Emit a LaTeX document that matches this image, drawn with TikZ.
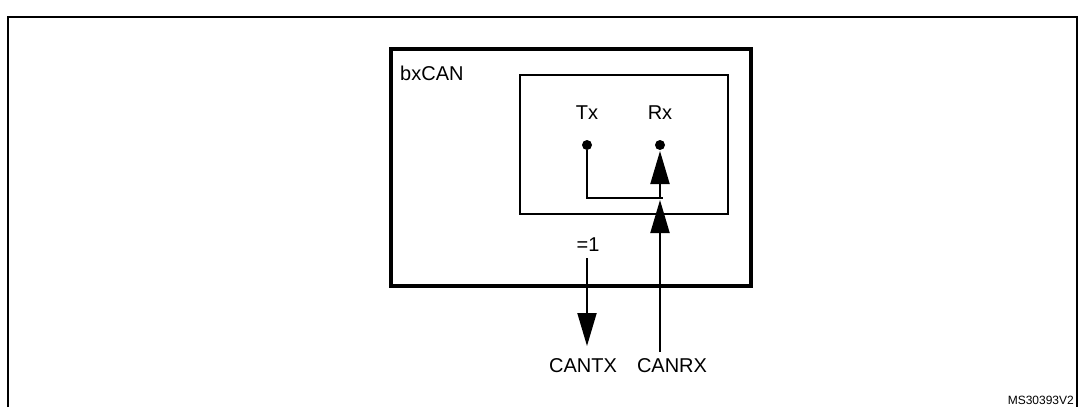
\documentclass[tikz,border=0pt]{standalone}
\usepackage{fontspec}
\setmainfont{Liberation Sans}
\usetikzlibrary{arrows.meta}
\begin{document}
\begin{tikzpicture}[x=1pt,y=-1pt,
  lbl/.style={font=\fontsize{20}{24}\selectfont, inner sep=0pt},
  thin/.style={line width=2pt},
  big/.style={-{Triangle[length=33pt,width=19pt]}, line width=2pt},
  dot/.style={circle, fill=black, inner sep=0pt, minimum size=10pt}]
\useasboundingbox (0,0) rectangle (1079,407);
\draw[line width=2pt] (8,407) -- (8,17) -- (1077,17) -- (1077,407);
\node[draw, line width=3.5pt, minimum width=360pt, minimum height=237pt, anchor=north west, inner sep=0pt] (can) at (389,47) {};
\node[draw, thin, minimum width=208pt, minimum height=139pt, anchor=north west, inner sep=0pt] (inner) at (519,74) {};
\node[lbl, anchor=north west] (bx) at (400,66) {bxCAN};
\node[lbl] (tx) at (587,113) {Tx};
\node[lbl] (rx) at (660,113) {Rx};
\node[dot] (txd) at (587,145) {};
\node[dot] (rxd) at (660,145) {};
\coordinate (j) at (660,198);
\draw[thin] (txd) -- (587,198) -- (663,198);
\draw[big] (j) -- (660,151);
\node[lbl] (eq) at (588,245) {=1};
\node[lbl] (cantx) at (583,366) {CANTX};
\node[lbl] (canrx) at (672,366) {CANRX};
\coordinate (t1) at (587,258);
\draw[big] (t1) -- (587,346);
\draw[big] (660,352) -- (660,200);
\node[font=\fontsize{12}{14}\selectfont, anchor=south east, inner sep=1pt] (ms) at (1075,406) {MS30393V2};
\end{tikzpicture}
\end{document}
